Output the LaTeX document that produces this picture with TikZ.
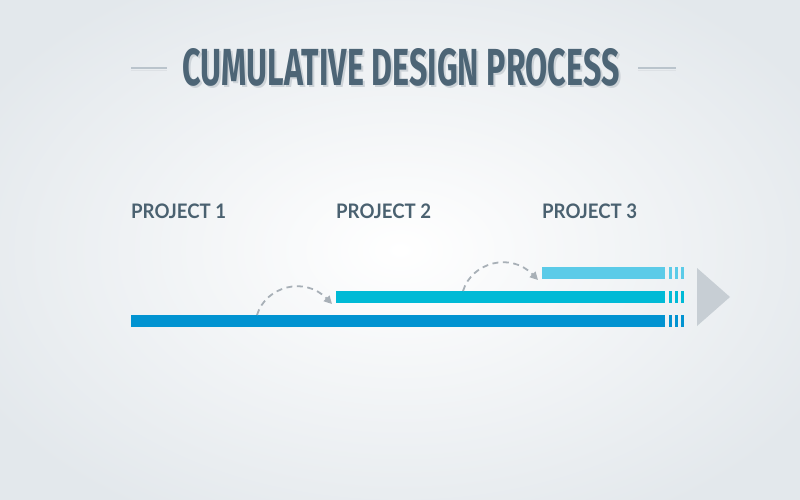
\documentclass[tikz,border=0pt]{standalone}
\usepackage{fontspec}
\usetikzlibrary{arrows.meta}
\newfontfamily\labelfont{Lato}
\newfontfamily\titlefont{Fira Sans}
\definecolor{bgedge}{HTML}{E3E8EC}
\definecolor{titlecol}{HTML}{4D6576}
\definecolor{shadowcol}{HTML}{CDD3D8}
\definecolor{labelcol}{HTML}{4A6170}
\definecolor{barA}{HTML}{0193D1}
\definecolor{barB}{HTML}{00BAD6}
\definecolor{barC}{HTML}{5BCBE8}
\definecolor{arrowcol}{HTML}{C7CED4}
\definecolor{dashcol}{HTML}{A8B0B7}
\definecolor{rulecol}{HTML}{BAC4CC}
\newcommand{\titletext}{\resizebox{437pt}{37pt}{\titlefont\bfseries CUMULATIVE DESIGN PROCESS}}
\newcommand{\projtext}[1]{\scalebox{0.93}[1]{#1}}
\tikzset{
  projlabel/.style={font=\labelfont\bfseries\fontsize{20}{20}\selectfont, text=labelcol, inner sep=0pt, anchor=base west},
  barbox/.style={inner sep=0pt, minimum height=12pt, anchor=north west},
  tickmark/.style={line width=2.4pt},
  hop/.style={dashcol, line width=1.8pt, dash pattern=on 6pt off 4.5pt, -{Triangle[length=8pt,width=8pt]}},
}
\begin{document}
\begin{tikzpicture}[x=1pt,y=-1pt]
\useasboundingbox (0,0) rectangle (800,500);
\fill[inner color=white, outer color=bgedge] (-80,-60) rectangle (880,560);
% title with shadow
\node[inner sep=0pt, text=titlecol] (title) at (401,68)
  {\makebox[0pt][l]{\hspace{2pt}\raisebox{-2pt}{\textcolor{shadowcol}{\titletext}}}\titletext};
\draw[rulecol, line width=2pt] (131,68) -- (167,68);
\draw[rulecol!50, line width=1pt] (131,70.5) -- (167,70.5);
\draw[rulecol, line width=2pt] (638,68) -- (676,68);
\draw[rulecol!50, line width=1pt] (638,70.5) -- (676,70.5);
% labels
\node[projlabel] (p1) at (131,218) {\projtext{PROJECT 1}};
\node[projlabel] (p2) at (336,218) {\projtext{PROJECT 2}};
\node[projlabel] (p3) at (542,218) {\projtext{PROJECT 3}};
% bars
\node[barbox, fill=barA, minimum width=534pt] (b1) at (131,315) {};
\node[barbox, fill=barB, minimum width=329pt] (b2) at (336,291) {};
\node[barbox, fill=barC, minimum width=123pt] (b3) at (542,267) {};
% ticks
\foreach \y/\c in {315/barA,291/barB,267/barC}{
  \foreach \x in {670.5,676.5,682.5}{
    \draw[\c, tickmark] (\x,\y) -- (\x,\y+12);
  }
}
% arrow
\fill[arrowcol] (697,268) -- (730,297) -- (697,326) -- cycle;
% hops
\coordinate (h1s) at (257,315);
\coordinate (h1e) at (332,304);
\coordinate (h2s) at (463,291);
\coordinate (h2e) at (538,280);
\draw[hop] (h1s) .. controls (266,286) and (305,276) .. (h1e);
\draw[hop] (h2s) .. controls (472,262) and (511,252) .. (h2e);
\end{tikzpicture}
\end{document}
